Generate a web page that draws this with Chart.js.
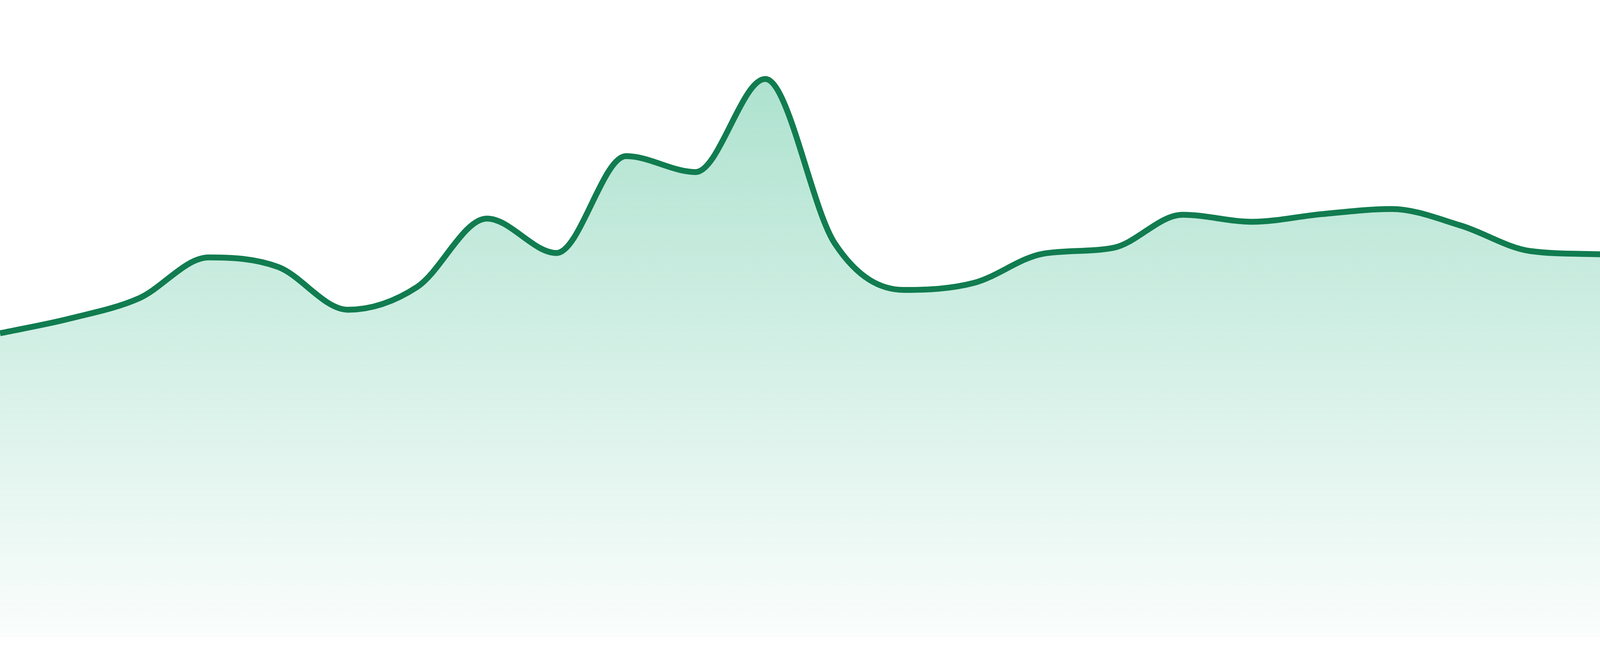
<!DOCTYPE html>
<html>
  <head>
    <meta charset="utf-8" />
    <title>Area trend</title>
    <script src="https://cdn.jsdelivr.net/npm/chart.js@4/dist/chart.umd.min.js"></script>
    <style>
      html, body { margin: 0; padding: 0; background: #ffffff; overflow: hidden; }
      #wrap { width: 100vw; height: 100vh; position: relative; }
    </style>
  </head>
  <body>
    <div id="wrap"><canvas id="myChart"></canvas></div>
    <script>
      // one point per step, no axis is shown in the picture
      const labels = [
        "1", "2", "3", "4", "5", "6", "7", "8", "9", "10", "11", "12",
        "13", "14", "15", "16", "17", "18", "19", "20", "21", "22", "23", "24",
      ];
      const values = [
        47.7, 50.0, 53.2, 59.6, 58.1, 51.4, 55.0, 65.7, 60.3, 75.5, 73.0, 87.6,
        61.8, 54.5, 55.6, 60.2, 61.1, 66.3, 65.2, 66.4, 67.2, 64.6, 60.6, 60.1,
      ];
      const yRange = [0, 100];

      const ctx = document.getElementById("myChart");

      const fillGradient = (context) => {
        const { ctx, chartArea } = context.chart;
        if (!chartArea) return "rgba(16,170,115,0.2)";
        const g = ctx.createLinearGradient(0, chartArea.top, 0, chartArea.bottom);
        g.addColorStop(0, "rgba(16,170,115,0.385)");
        g.addColorStop(1, "rgba(16,170,115,0.02)");
        return g;
      };

      const myChart = new Chart(ctx, {
        type: "line",
        data: {
          labels: labels,
          datasets: [
            {
              data: values,
              borderColor: "#117c50",
              borderWidth: 15,
              backgroundColor: fillGradient,
              fill: "origin",
              pointRadius: 0,
              pointHoverRadius: 0,
              cubicInterpolationMode: "monotone",
            },
          ],
        },
        options: {
          responsive: true,
          maintainAspectRatio: false,
          animation: false,
          layout: { padding: { top: 0, right: 0, bottom: 48, left: 0 } },
          plugins: {
            legend: { display: false },
            tooltip: { enabled: false },
          },
          scales: {
            x: { display: false, offset: false },
            y: { display: false, min: yRange[0], max: yRange[1] },
          },
        },
      });
    </script>
  </body>
</html>
